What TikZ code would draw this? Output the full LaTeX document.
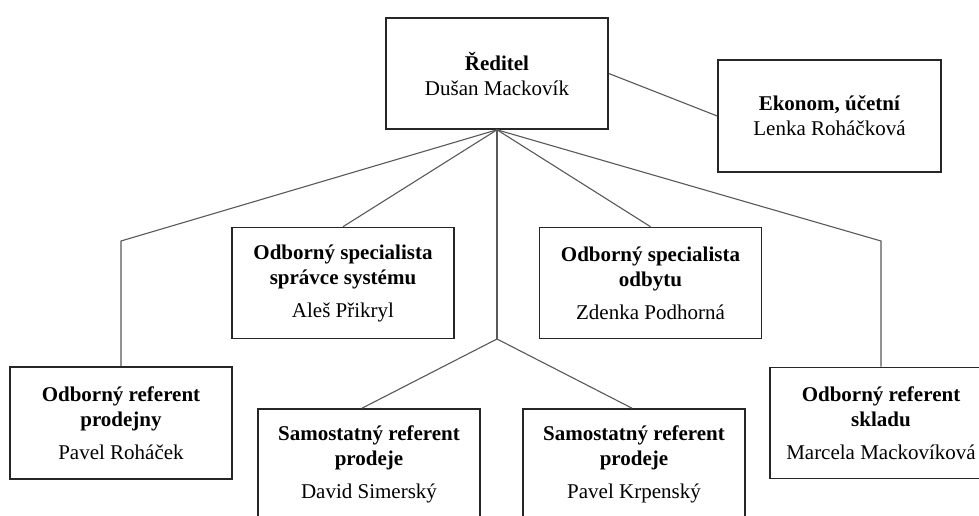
\documentclass[tikz,border=0pt]{standalone}
\usepackage{fontspec}
\setmainfont{Liberation Serif}
\usepackage{tikz}
\usetikzlibrary{positioning}
\tikzset{>=stealth}
\tikzset{
  box/.style={draw=black!85, line width=1.6pt, fill=white, minimum width=222pt,
    minimum height=111pt, inner sep=0pt, align=center,
    font=\fontsize{21}{25}\selectfont},
  link/.style={draw=black!65, line width=1.1pt}
}

\begin{document}
\begin{tikzpicture}[x=1pt,y=-1pt]
        \clip (0,0) rectangle (979,516);
        \fill[white] (0,0) rectangle (979,516);
        \coordinate (kl) at (121,241);
        \coordinate (kr) at (881,241);
        \coordinate (hub) at (497,339);
        \node[box] (reditel) at (497,73.5) {\textbf{Ředitel}\\Dušan Mackovík};
        \node[box,minimum width=223pt,minimum height=112pt] (ekonom) at (829.5,116) {\textbf{Ekonom, účetní}\\Lenka Roháčková};
        \node[box] (spravce) at (343,283) {\textbf{Odborný specialista}\\\textbf{správce systému}\\[8pt]Aleš Přikryl};
        \node[box] (odbyt) at (650.5,283) {\textbf{Odborný specialista}\\\textbf{odbytu}\\[8pt]Zdenka Podhorná};
        \node[box,minimum height=112pt] (prodejny) at (121,423) {\textbf{Odborný referent}\\\textbf{prodejny}\\[8pt]Pavel Roháček};
        \node[box] (sklad) at (881,423) {\textbf{Odborný referent}\\\textbf{skladu}\\[8pt]Marcela Mackovíková};
        \node[box] (prodej1) at (369,464.5) {\textbf{Samostatný referent}\\\textbf{prodeje}\\[8pt]David Simerský};
        \node[box] (prodej2) at (634,464.5) {\textbf{Samostatný referent}\\\textbf{prodeje}\\[8pt]Pavel Krpenský};
        \draw[link] (reditel.east) -- (ekonom.west);
        \draw[link] (reditel.south) -- (kl) -- (prodejny.north);
        \draw[link] (reditel.south) -- (spravce.north);
        \draw[link] (reditel.south) -- (hub);
        \draw[link] (hub) -- ([xshift=-7pt]prodej1.north);
        \draw[link] (hub) -- ([xshift=-2pt]prodej2.north);
        \draw[link] (reditel.south) -- (odbyt.north);
        \draw[link] (reditel.south) -- (kr) -- (sklad.north);
\end{tikzpicture}
\end{document}
